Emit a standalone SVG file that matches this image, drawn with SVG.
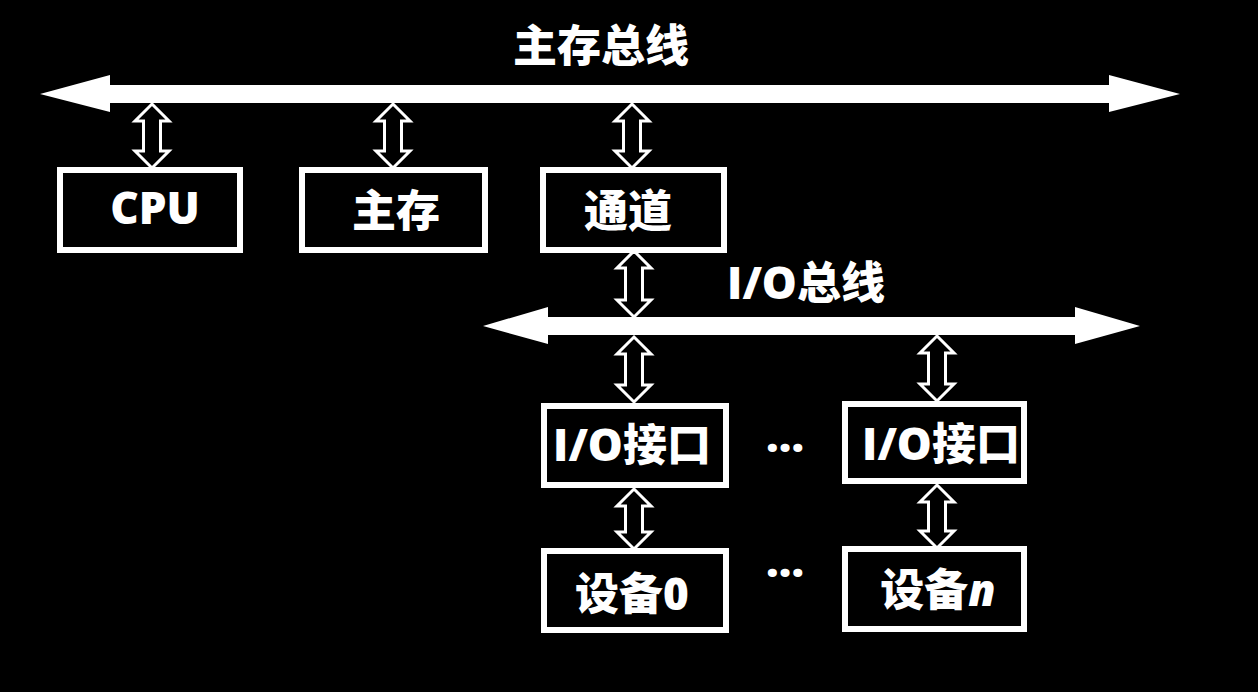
<svg xmlns="http://www.w3.org/2000/svg" width="1258" height="692" viewBox="0 0 1258 692">
<style>
  .box{fill:#000;stroke:#fff;stroke-width:6}
  .dbl{fill:#000;stroke:#fff;stroke-width:3;stroke-linejoin:miter}
  .bus{fill:#fff;stroke:none}
  text{font-family:"Open Sans","Noto Sans CJK SC",sans-serif;font-weight:900;fill:#fff;text-anchor:middle;font-size:44px}
</style>
<rect width="1258" height="692" fill="#000"/>
<g id="labels">
  <text x="601" y="62">主存总线</text>
  <text x="806" y="299">I/O总线</text>
  <text x="785" y="452">…</text>
  <text x="785" y="577">…</text>
</g>
<g id="connectors">
  <polygon id="main-bus" class="bus" points="40,94 110,75 110,85 1109,85 1109,75 1180,94 1109,112 1109,103 110,103 110,112"/>
  <polygon id="io-bus" class="bus" points="483,326 548,307 548,317 1075,317 1075,307 1140,326 1075,344 1075,335 548,335 548,344"/>
  <path class="dbl" d="M152,104 L169,121 L160.5,121 L160.5,151 L169,151 L152,168 L135,151 L143.5,151 L143.5,121 L135,121 Z"/>
  <path class="dbl" d="M393,104 L410,121 L401.5,121 L401.5,151 L410,151 L393,168 L376,151 L384.5,151 L384.5,121 L376,121 Z"/>
  <path class="dbl" d="M632,104 L649,121 L640.5,121 L640.5,151 L649,151 L632,168 L615,151 L623.5,151 L623.5,121 L615,121 Z"/>
  <path class="dbl" d="M634,251 L651,268 L642.5,268 L642.5,300 L651,300 L634,317 L617,300 L625.5,300 L625.5,268 L617,268 Z"/>
  <path class="dbl" d="M634,337 L651,354 L642.5,354 L642.5,385 L651,385 L634,402 L617,385 L625.5,385 L625.5,354 L617,354 Z"/>
  <path class="dbl" d="M634,489 L651,506 L642.5,506 L642.5,532 L651,532 L634,549 L617,532 L625.5,532 L625.5,506 L617,506 Z"/>
  <path class="dbl" d="M937,336 L954,353 L945.5,353 L945.5,384 L954,384 L937,401 L920,384 L928.5,384 L928.5,353 L920,353 Z"/>
  <path class="dbl" d="M937,485 L954,502 L945.5,502 L945.5,531 L954,531 L937,548 L920,531 L928.5,531 L928.5,502 L920,502 Z"/>
</g>
<g id="cpu">
  <rect class="box" x="60" y="170" width="180" height="80"/>
  <text x="155" y="224">CPU</text>
</g>
<g id="main-memory">
  <rect class="box" x="302" y="170" width="183" height="80"/>
  <text x="396" y="227">主存</text>
</g>
<g id="channel">
  <rect class="box" x="543" y="170" width="181" height="80"/>
  <text x="628" y="227">通道</text>
</g>
<g id="io-interface-0">
  <rect class="box" x="544" y="406" width="182" height="79"/>
  <text x="632" y="461">I/O接口</text>
</g>
<g id="io-interface-n">
  <rect class="box" x="845" y="404" width="179" height="77"/>
  <text x="941" y="460">I/O接口</text>
</g>
<g id="device-0">
  <rect class="box" x="544" y="551" width="182" height="79"/>
  <text x="632" y="610">设备0</text>
</g>
<g id="device-n">
  <rect class="box" x="845" y="549" width="179" height="80"/>
  <text x="938" y="606">设备<tspan font-style="italic">n</tspan></text>
</g>
</svg>
